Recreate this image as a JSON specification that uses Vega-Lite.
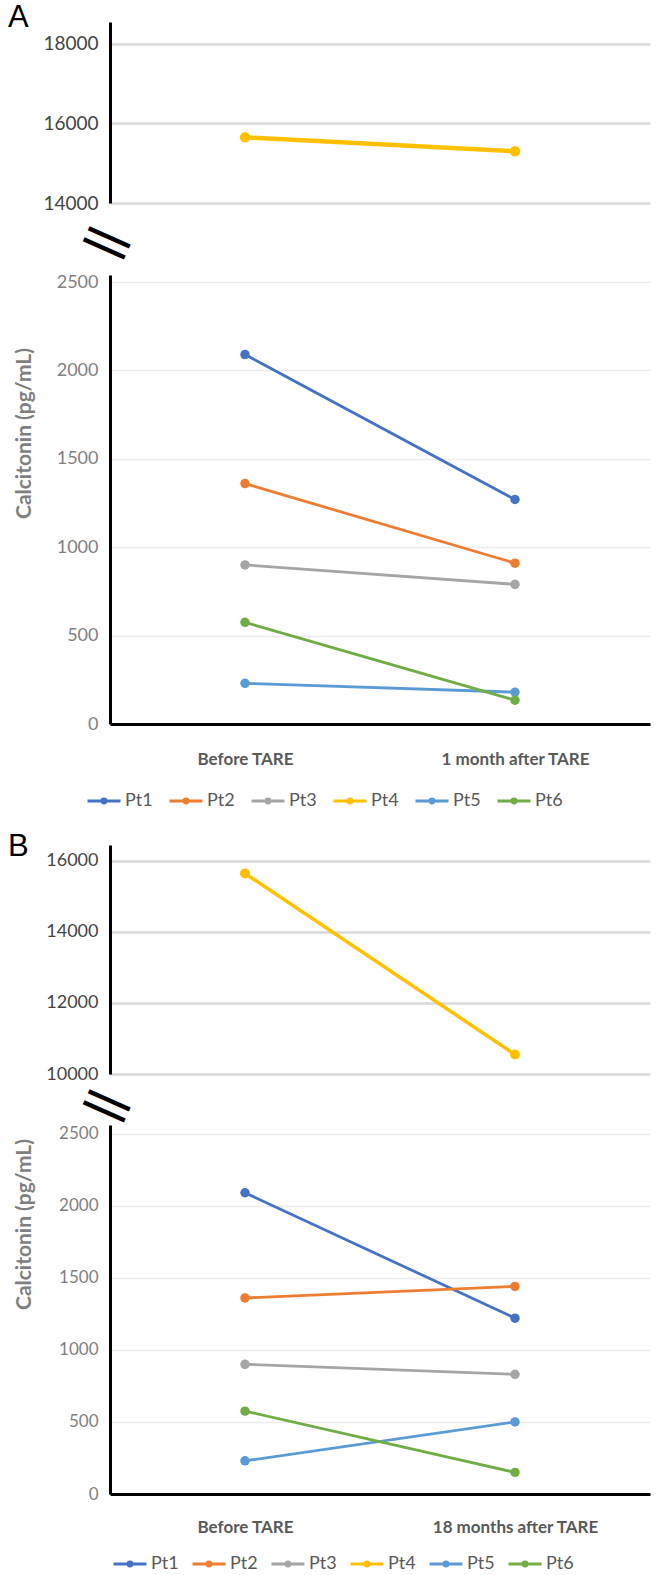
{
  "$schema": "https://vega.github.io/schema/vega-lite/v6.json",
  "background": "white",
  "padding": {"left": 8, "top": 2, "right": 5, "bottom": 5},
  "config": {"view": {"stroke": null}},
  "data": {"values": [
    {"panel": "A", "part": "top", "time": "Before TARE", "pt": "Pt4", "value": 15650},
    {"panel": "A", "part": "top", "time": "1 month after TARE", "pt": "Pt4", "value": 15300},
    {"panel": "A", "part": "bottom", "time": "Before TARE", "pt": "Pt1", "value": 2090},
    {"panel": "A", "part": "bottom", "time": "1 month after TARE", "pt": "Pt1", "value": 1270},
    {"panel": "A", "part": "bottom", "time": "Before TARE", "pt": "Pt2", "value": 1360},
    {"panel": "A", "part": "bottom", "time": "1 month after TARE", "pt": "Pt2", "value": 910},
    {"panel": "A", "part": "bottom", "time": "Before TARE", "pt": "Pt3", "value": 900},
    {"panel": "A", "part": "bottom", "time": "1 month after TARE", "pt": "Pt3", "value": 790},
    {"panel": "A", "part": "bottom", "time": "Before TARE", "pt": "Pt5", "value": 230},
    {"panel": "A", "part": "bottom", "time": "1 month after TARE", "pt": "Pt5", "value": 180},
    {"panel": "A", "part": "bottom", "time": "Before TARE", "pt": "Pt6", "value": 575},
    {"panel": "A", "part": "bottom", "time": "1 month after TARE", "pt": "Pt6", "value": 135},
    {"panel": "B", "part": "top", "time": "Before TARE", "pt": "Pt4", "value": 15650},
    {"panel": "B", "part": "top", "time": "18 months after TARE", "pt": "Pt4", "value": 10550},
    {"panel": "B", "part": "bottom", "time": "Before TARE", "pt": "Pt1", "value": 2090},
    {"panel": "B", "part": "bottom", "time": "18 months after TARE", "pt": "Pt1", "value": 1220},
    {"panel": "B", "part": "bottom", "time": "Before TARE", "pt": "Pt2", "value": 1360},
    {"panel": "B", "part": "bottom", "time": "18 months after TARE", "pt": "Pt2", "value": 1440},
    {"panel": "B", "part": "bottom", "time": "Before TARE", "pt": "Pt3", "value": 900},
    {"panel": "B", "part": "bottom", "time": "18 months after TARE", "pt": "Pt3", "value": 830},
    {"panel": "B", "part": "bottom", "time": "Before TARE", "pt": "Pt5", "value": 230},
    {"panel": "B", "part": "bottom", "time": "18 months after TARE", "pt": "Pt5", "value": 500},
    {"panel": "B", "part": "bottom", "time": "Before TARE", "pt": "Pt6", "value": 575},
    {"panel": "B", "part": "bottom", "time": "18 months after TARE", "pt": "Pt6", "value": 150}
  ]},
  "bounds": "flush",
  "spacing": 0,
  "resolve": {"scale": {"color": "independent"}, "legend": {"color": "independent"}},
  "vconcat": [
    {
      "width": 540, "height": 181,
      "title": {"text": "A", "anchor": "start", "frame": "group", "font": "Liberation Sans", "fontSize": 31, "fontWeight": "normal", "color": "black", "dx": -102, "offset": -36, "baseline": "alphabetic"},
      "transform": [{"filter": "datum.panel == 'A' && datum.part == 'top'"}],
      "mark": {"type": "line", "strokeWidth": 4.5, "point": {"filled": true, "size": 110}},
      "encoding": {
        "x": {"field": "time", "type": "nominal", "sort": ["Before TARE", "1 month after TARE"], "scale": {"padding": 0.5}, "axis": null},
        "y": {"field": "value", "type": "quantitative", "scale": {"domain": [14000, 18550], "nice": false, "zero": false},
          "axis": {"values": [14000, 16000, 18000], "format": "d", "title": null, "grid": true, "gridColor": "#d9d9d9", "gridWidth": 2.5, "ticks": false, "domainColor": "black", "domainWidth": 3, "labelColor": "#454545", "labelFont": "Lato", "labelFontSize": 19, "labelPadding": 12}},
        "color": {"field": "pt", "type": "nominal", "scale": {"domain": ["Pt1", "Pt2", "Pt3", "Pt4", "Pt5", "Pt6"], "range": ["#4472C4", "#ED7D31", "#A5A5A5", "#FFC000", "#5B9BD5", "#70AD47"]}, "legend": null}
      }
    },
    {
      "width": 540, "height": 521,
      "title": {"text": ["—", "—"], "anchor": "start", "frame": "group", "font": "Liberation Sans", "fontSize": 45, "fontWeight": "bold", "color": "black", "lineHeight": 12, "angle": 24, "align": "center", "baseline": "middle", "offset": -103},
      "transform": [{"filter": "datum.panel == 'A' && datum.part == 'bottom'"}],
      "mark": {"type": "line", "strokeWidth": 2.8, "point": {"filled": true, "size": 90}},
      "encoding": {
        "x": {"field": "time", "type": "nominal", "sort": ["Before TARE", "1 month after TARE"], "scale": {"padding": 0.5},
          "axis": {"title": null, "ticks": false, "labelAngle": 0, "domainColor": "black", "domainWidth": 3, "labelFont": "Lato", "labelFontWeight": "bold", "labelFontSize": 17, "labelColor": "#595959", "labelPadding": 27}},
        "y": {"field": "value", "type": "quantitative", "scale": {"domain": [0, 2540], "nice": false, "zero": false, "range": [521, 72]},
          "axis": {"values": [0, 500, 1000, 1500, 2000, 2500], "format": "d", "title": "Calcitonin (pg/mL)", "grid": true, "gridColor": "#ececec", "gridWidth": 1.5, "ticks": false, "domainColor": "black", "domainWidth": 3, "labelColor": "#7f7f7f", "labelFont": "Lato", "labelFontSize": 18, "labelPadding": 12, "titleFont": "Lato", "titleFontSize": 21, "titleFontWeight": "bold", "titleColor": "#7f7f7f", "titleX": -86, "titleY": 230, "titleAlign": "center", "titleBaseline": "middle"}},
        "color": {"field": "pt", "type": "nominal", "scale": {"domain": ["Pt1", "Pt2", "Pt3", "Pt4", "Pt5", "Pt6"], "range": ["#4472C4", "#ED7D31", "#A5A5A5", "#FFC000", "#5B9BD5", "#70AD47"]},
          "legend": {"orient": "none", "legendX": -24, "legendY": 580, "direction": "horizontal", "title": null, "symbolType": "M-1,0L1,0M0.12,0A0.12,0.12 0 1,1 -0.12,0A0.12,0.12 0 1,1 0.12,0Z", "symbolSize": 1089, "symbolStrokeWidth": 3, "labelFont": "Lato", "labelFontSize": 18, "labelColor": "#595959", "columnPadding": 10, "labelOffset": 3}}
      }
    },
    {
      "width": 540, "height": 350,
      "title": {"text": "B", "anchor": "start", "frame": "group", "font": "Liberation Sans", "fontSize": 31, "fontWeight": "normal", "color": "black", "dx": -102, "offset": -163, "baseline": "alphabetic"},
      "transform": [{"filter": "datum.panel == 'B' && datum.part == 'top'"}],
      "mark": {"type": "line", "strokeWidth": 3.5, "point": {"filled": true, "size": 100}},
      "encoding": {
        "x": {"field": "time", "type": "nominal", "sort": ["Before TARE", "18 months after TARE"], "scale": {"padding": 0.5}, "axis": null},
        "y": {"field": "value", "type": "quantitative", "scale": {"domain": [10000, 16450], "nice": false, "zero": false, "range": [350, 121]},
          "axis": {"values": [10000, 12000, 14000, 16000], "format": "d", "title": null, "grid": true, "gridColor": "#d9d9d9", "gridWidth": 2.5, "ticks": false, "domainColor": "black", "domainWidth": 3, "labelColor": "#454545", "labelFont": "Lato", "labelFontSize": 18, "labelPadding": 12}},
        "color": {"field": "pt", "type": "nominal", "scale": {"domain": ["Pt1", "Pt2", "Pt3", "Pt4", "Pt5", "Pt6"], "range": ["#4472C4", "#ED7D31", "#A5A5A5", "#FFC000", "#5B9BD5", "#70AD47"]}, "legend": null}
      }
    },
    {
      "width": 540, "height": 420,
      "title": {"text": ["—", "—"], "anchor": "start", "frame": "group", "font": "Liberation Sans", "fontSize": 45, "fontWeight": "bold", "color": "black", "lineHeight": 12, "angle": 24, "align": "center", "baseline": "middle", "offset": -95},
      "transform": [{"filter": "datum.panel == 'B' && datum.part == 'bottom'"}],
      "mark": {"type": "line", "strokeWidth": 2.8, "point": {"filled": true, "size": 90}},
      "encoding": {
        "x": {"field": "time", "type": "nominal", "sort": ["Before TARE", "18 months after TARE"], "scale": {"padding": 0.5},
          "axis": {"title": null, "ticks": false, "labelAngle": 0, "domainColor": "black", "domainWidth": 3, "labelFont": "Lato", "labelFontWeight": "bold", "labelFontSize": 17, "labelColor": "#595959", "labelPadding": 25}},
        "y": {"field": "value", "type": "quantitative", "scale": {"domain": [0, 2560], "nice": false, "zero": false, "range": [420, 51]},
          "axis": {"values": [0, 500, 1000, 1500, 2000, 2500], "format": "d", "title": "Calcitonin (pg/mL)", "grid": true, "gridColor": "#ececec", "gridWidth": 1.5, "ticks": false, "domainColor": "black", "domainWidth": 3, "labelColor": "#7f7f7f", "labelFont": "Lato", "labelFontSize": 17, "labelPadding": 12, "titleFont": "Lato", "titleFontSize": 21, "titleFontWeight": "bold", "titleColor": "#7f7f7f", "titleX": -86, "titleY": 150, "titleAlign": "center", "titleBaseline": "middle"}},
        "color": {"field": "pt", "type": "nominal", "scale": {"domain": ["Pt1", "Pt2", "Pt3", "Pt4", "Pt5", "Pt6"], "range": ["#4472C4", "#ED7D31", "#A5A5A5", "#FFC000", "#5B9BD5", "#70AD47"]},
          "legend": {"orient": "none", "legendX": 2, "legendY": 472, "direction": "horizontal", "title": null, "symbolType": "M-1,0L1,0M0.12,0A0.12,0.12 0 1,1 -0.12,0A0.12,0.12 0 1,1 0.12,0Z", "symbolSize": 1089, "symbolStrokeWidth": 3, "labelFont": "Lato", "labelFontSize": 18, "labelColor": "#595959", "columnPadding": 7, "labelOffset": 3}}
      }
    }
  ]
}
